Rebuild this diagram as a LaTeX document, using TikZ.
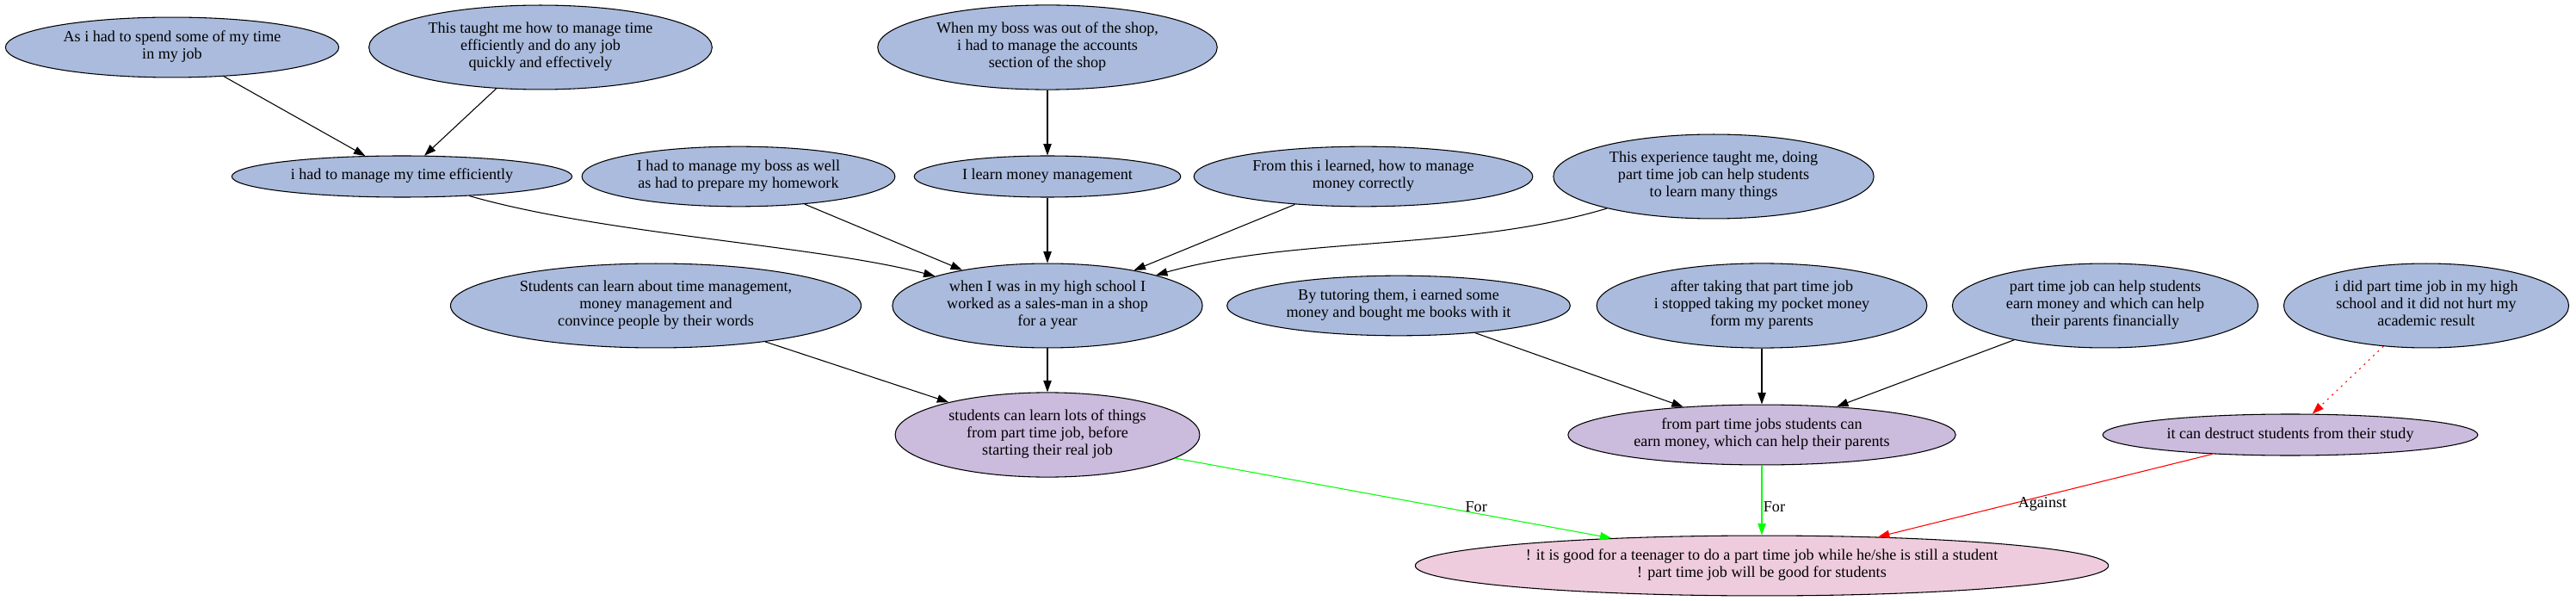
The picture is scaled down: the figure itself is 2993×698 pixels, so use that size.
\documentclass[tikz,border=0pt]{standalone}
\usepackage{fontspec}
\setmainfont{Liberation Serif}
\usetikzlibrary{arrows.meta,shapes.geometric}
\definecolor{argblue}{HTML}{AABBDD}
\definecolor{argpurple}{HTML}{CBBBDD}
\definecolor{argpink}{HTML}{EECCDD}
\tikzset{
	claim/.style={ellipse,draw,line width=0.8pt,align=center,inner xsep=7.9pt,inner ysep=4pt,minimum height=36pt,minimum width=54pt,font=\fontsize{13.6}{15}\selectfont,execute at begin node=\strut,execute at end node=\strut},
	premise/.style={claim,fill=argblue},
	reason/.style={claim,fill=argpurple},
	thesis/.style={claim,fill=argpink},
	link/.style={-{Triangle[length=10pt,width=7pt]},line width=0.8pt},
	tag/.style={font=\fontsize{13.6}{15}\selectfont,text=black,inner sep=1pt}
}
\begin{document}
\begin{tikzpicture}[x=0.75pt,y=-0.75pt]
	\useasboundingbox (0,0) rectangle (2993,698);
	\node[premise] (spend) at (200,55) {As i had to spend some of my time\\in my job};
	\node[premise] (taught) at (628,55) {This taught me how to manage time\\efficiently and do any job\\quickly and effectively};
	\node[premise] (boss) at (1217,55) {When my boss was out of the shop,\\i had to manage the accounts\\section of the shop};
	\node[premise] (timeeff) at (467,205) {i had to manage my time efficiently};
	\node[premise] (homework) at (858,205) {I had to manage my boss as well\\as had to prepare my homework};
	\node[premise] (money) at (1217,205) {I learn money management};
	\node[premise] (learned) at (1584,205) {From this i learned, how to manage\\money correctly};
	\node[premise] (experience) at (1991,205) {This experience taught me, doing\\part time job can help students\\to learn many things};
	\node[premise] (skills) at (762,355) {Students can learn about time management,\\money management and\\convince people by their words};
	\node[premise] (salesman) at (1217,355) {when I was in my high school I\\worked as a sales-man in a shop\\for a year};
	\node[premise] (tutoring) at (1625,355) {By tutoring them, i earned some\\money and bought me books with it};
	\node[premise] (pocket) at (2047,355) {after taking that part time job\\i stopped taking my pocket money\\form my parents};
	\node[premise] (helpparents) at (2446,355) {part time job can help students\\earn money and which can help\\their parents financially};
	\node[premise] (nohurt) at (2819,355) {i did part time job in my high\\school and it did not hurt my\\academic result};
	\node[reason] (lots) at (1217,505) {students can learn lots of things\\from part time job, before\\starting their real job};
	\node[reason] (earn) at (2047,505) {from part time jobs students can\\earn money, which can help their parents};
	\node[reason] (destruct) at (2661,505) {it can destruct students from their study};
	\node[thesis] (topic) at (2047,657) {! it is good for a teenager to do a part time job while he/she is still a student\\! part time job will be good for students};
	\draw[link] (spend) -- (timeeff);
	\draw[link] (taught) -- (timeeff);
	\draw[link] (boss) -- (money);
	\draw[link] (timeeff) .. controls (700,272) and (950,285) .. (salesman);
	\draw[link] (homework) -- (salesman);
	\draw[link] (money) -- (salesman);
	\draw[link] (learned) -- (salesman);
	\draw[link] (experience) .. controls (1700,292) and (1505,274) .. (salesman);
	\draw[link] (skills) -- (lots);
	\draw[link] (salesman) -- (lots);
	\draw[link] (tutoring) -- (earn);
	\draw[link] (pocket) -- (earn);
	\draw[link] (helpparents) -- (earn);
	\draw[link,red,dash pattern=on 1.5pt off 4pt] (nohurt) -- (destruct);
	\draw[link,green] (lots) -- node[tag,pos=0.69,above]{For} (topic);
	\draw[link,green] (earn) -- node[tag,pos=0.59,right]{For} (topic);
	\draw[link,red] (destruct) -- node[tag,pos=0.6,right=4pt]{Against} (topic);
\end{tikzpicture}
\end{document}
